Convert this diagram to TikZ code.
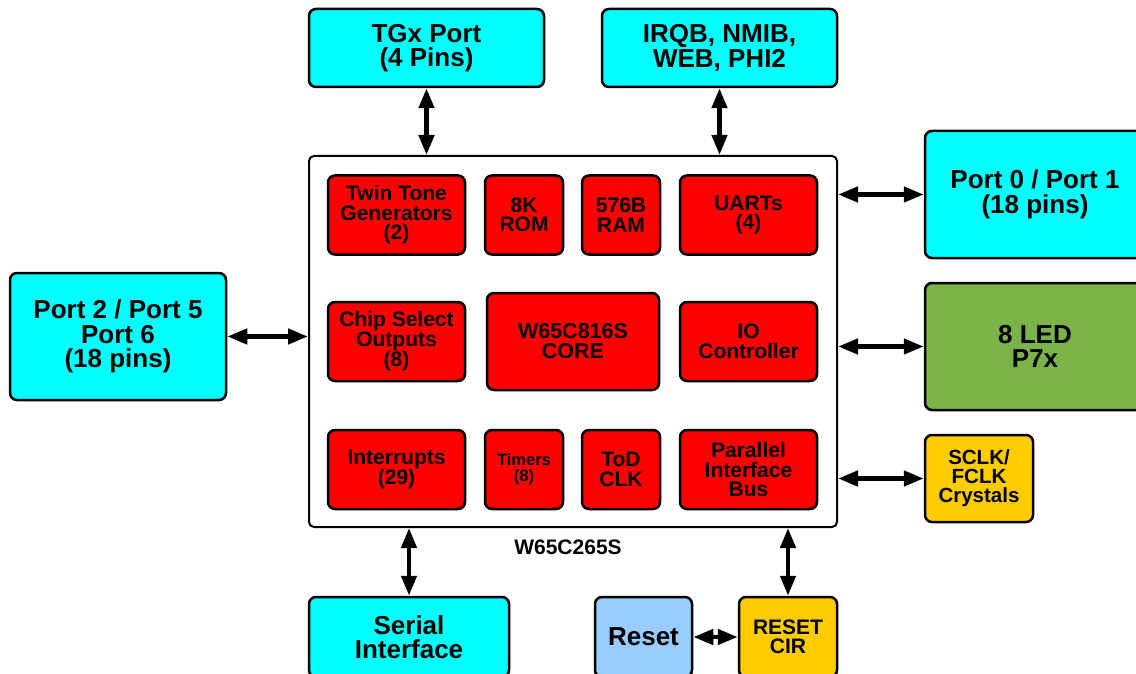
\documentclass[tikz,border=0pt]{standalone}
\usepackage{fontspec}
\setmainfont{Liberation Sans}
\usetikzlibrary{arrows.meta,positioning}
\definecolor{portcyan}{RGB}{0,255,255}
\definecolor{unitred}{RGB}{255,0,0}
\definecolor{ledgreen}{RGB}{122,180,72}
\definecolor{clkyellow}{RGB}{255,204,0}
\definecolor{rstblue}{RGB}{153,204,255}

\begin{document}
\begin{tikzpicture}[x=1pt,y=-1pt,
    blk/.style={draw=black,line width=2.5pt,rounded corners=7pt,inner sep=0pt,align=center,
        font=\fontsize{26}{24.5}\selectfont\bfseries},
    port/.style={blk,fill=portcyan,minimum width=#1,minimum height=127pt},
    unit/.style={blk,fill=unitred,minimum width=#1,minimum height=79pt,
        font=\fontsize{21}{19.5}\selectfont\bfseries},
    bi/.style={line width=4.5pt,{Triangle[length=20pt,width=15pt]}-{Triangle[length=20pt,width=15pt]}}]
    \useasboundingbox (0,0) rectangle (1136,674);
    \clip (0,0) rectangle (1136,674);

    \node[blk,fill=portcyan,minimum width=235pt,minimum height=78pt] (tgx) at (426.5,48) {TGx Port\\(4 Pins)};
    \node[blk,fill=portcyan,minimum width=235pt,minimum height=78pt] (irq) at (719.5,48) {IRQB, NMIB,\\WEB, PHI2};

    \node[draw=black,line width=2pt,rounded corners=5pt,fill=white,minimum width=528pt,minimum height=371pt] (chip) at (573,341.5) {};
    \node[font=\fontsize{21}{21}\selectfont\bfseries,inner sep=0pt,below=12pt of chip,xshift=-5pt] (chipname) {W65C265S};

    \node[unit=137pt] (ttg) at (396.5,215) {Twin Tone\\Generators\\(2)};
    \node[unit=78pt] (rom) at (524,215) {8K\\ROM};
    \node[unit=78pt] (ram) at (621,215) {576B\\RAM};
    \node[unit=137pt] (uart) at (748.5,215) {UARTs\\(4)};
    \node[unit=137pt] (csel) at (396.5,341.5) {Chip Select\\Outputs\\(8)};
    \node[unit=172pt,minimum height=97pt,font=\fontsize{21.5}{20}\selectfont\bfseries] (core) at (573,341.5) {W65C816S\\CORE};
    \node[unit=137pt] (ioc) at (748.5,341.5) {IO\\Controller};
    \node[unit=137pt] (ints) at (396.5,469.5) {Interrupts\\(29)};
    \node[unit=78pt,font=\fontsize{16.5}{16}\selectfont\bfseries] (tmr) at (524,469.5) {Timers\\(8)};
    \node[unit=78pt] (tod) at (621,469.5) {ToD\\CLK};
    \node[unit=137pt] (pib) at (748.5,469.5) {Parallel\\Interface\\Bus};

    \node[port=216pt] (portA) at (118,336.5) {Port 2 / Port 5\\Port 6\\(18 pins)};
    \node[port=220pt] (portB) at (1035,194.5) {Port 0 / Port 1\\(18 pins)};
    \node[blk,fill=ledgreen,minimum width=220pt,minimum height=127pt] (led) at (1035,346.5) {8 LED\\P7x};
    \node[blk,fill=clkyellow,minimum width=108pt,minimum height=87pt,font=\fontsize{20.5}{19}\selectfont\bfseries] (xtal) at (979,478.5) {SCLK/\\FCLK\\Crystals};

    \node[blk,fill=portcyan,minimum width=200pt,minimum height=80pt] (serial) at (409,637) {Serial\\Interface};
    \node[blk,fill=rstblue,minimum width=97pt,minimum height=80pt] (reset) at (643.5,637) {Reset};
    \node[blk,fill=clkyellow,minimum width=98pt,minimum height=80pt,font=\fontsize{21}{19.5}\selectfont\bfseries] (rcir) at (788,637) {RESET\\CIR};

    \foreach \n in {tgx,irq}
        \draw[bi] (\n) -- (\n |- chip.north);
    \foreach \n in {serial,rcir}
        \draw[bi] (\n) -- (\n |- chip.south);
    \foreach \n in {portB,led,xtal}
        \draw[bi] (\n) -- (\n -| chip.east);
    \draw[bi] (portA) -- (portA -| chip.west);
    \draw[bi] (reset) -- (rcir);
\end{tikzpicture}
\end{document}
